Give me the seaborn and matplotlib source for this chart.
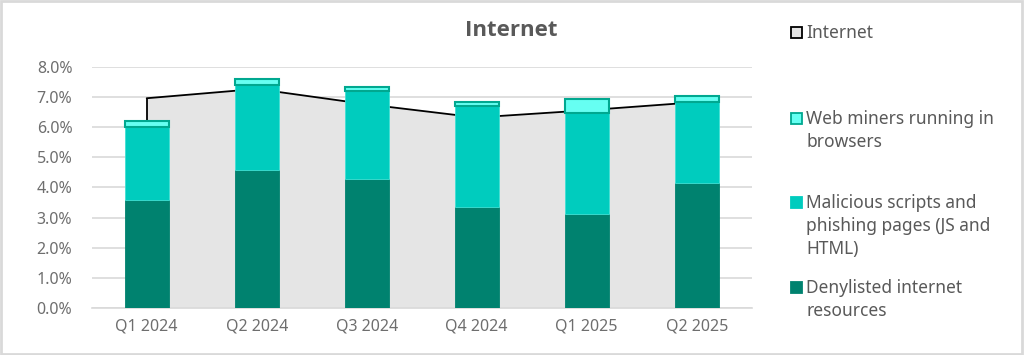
import numpy as np
import pandas as pd
import matplotlib
matplotlib.use("Agg")
import matplotlib.pyplot as plt
from matplotlib.patches import Rectangle
from matplotlib.ticker import FuncFormatter
import seaborn as sns

quarters = ["Q1 2024", "Q2 2024", "Q3 2024", "Q4 2024", "Q1 2025", "Q2 2025"]
denylisted = [3.60, 4.59, 4.29, 3.36, 3.13, 4.16]
malicious = [2.40, 2.81, 2.92, 3.35, 3.34, 2.69]
web_miners = [0.22, 0.22, 0.14, 0.14, 0.46, 0.20]
internet = [6.97, 7.28, 6.77, 6.33, 6.57, 6.84]
yticks = [0, 1, 2, 3, 4, 5, 6, 7, 8]

legend_labels = ["Internet", "Web miners running in\nbrowsers",
                 "Malicious scripts and\nphishing pages (JS and\nHTML)",
                 "Denylisted internet\nresources"]

C_DARK = "#00826F"
C_MED = "#00CCBE"
C_LIGHT = "#66FFF2"
C_EDGE = "#00A890"
C_AREA = "#E5E5E5"
C_GRID = "#D9D9D9"
C_TEXT = "#595959"

sns.set_theme(style="white")
plt.rcParams["font.family"] = ["Noto Sans", "DejaVu Sans"]

df = pd.DataFrame({"quarter": quarters, "denylisted": denylisted,
                   "malicious": malicious, "web": web_miners, "internet": internet})
df["mid_bottom"] = df["denylisted"]
df["top_bottom"] = df["denylisted"] + df["malicious"]

fig = plt.figure(figsize=(10.24, 3.55), dpi=100)
ax = fig.add_axes([91.7 / 1024, 1 - 307.7 / 355, 660 / 1024, 240.4 / 355])

xpos = np.arange(len(quarters))
# area (Internet)
ax.fill_between(xpos, 0, df["internet"], color=C_AREA, zorder=1, linewidth=0)
sns.lineplot(x=xpos, y=df["internet"], color="black", linewidth=1.3, ax=ax, zorder=2)
ax.vlines([xpos[0], xpos[-1]], 0, [internet[0], internet[-1]], color="black",
          linewidth=1.3, zorder=2)

sns.barplot(data=df, x="quarter", y="denylisted", color=C_DARK, width=0.4,
            saturation=1, edgecolor=C_DARK, linewidth=0.6, ax=ax, zorder=3)
sns.barplot(data=df, x="quarter", y="malicious", bottom=df["mid_bottom"], color=C_MED,
            width=0.4, saturation=1, edgecolor="#3FE0D4", linewidth=0.6, ax=ax, zorder=3)
sns.barplot(data=df, x="quarter", y="web", bottom=df["top_bottom"], color=C_LIGHT,
            width=0.4, saturation=1, edgecolor=C_EDGE, linewidth=1.5, ax=ax, zorder=4)

ax.set_xlim(-0.5, 5.5)
ax.set_ylim(0, 8)
ax.set_yticks(yticks)
ax.yaxis.set_major_formatter(FuncFormatter(lambda v, p: f"{v:.1f}%"))
ax.grid(axis="y", color=C_GRID, linewidth=1.2, zorder=0)
ax.set_axisbelow(True)
for s in ["top", "right", "left"]:
    ax.spines[s].set_visible(False)
ax.spines["bottom"].set_color(C_GRID)
ax.spines["bottom"].set_linewidth(1.2)
ax.set_xlabel("")
ax.set_ylabel("")
ax.tick_params(axis="both", length=0, labelsize=11.5, colors="#6E6E6E")
ax.tick_params(axis="y", pad=14)
ax.tick_params(axis="x", pad=8)

fig.text(511 / 1024, 1 - 31 / 355, "Internet", ha="center", va="center",
         fontsize=16, fontweight="bold", color=C_TEXT, family=["Open Sans", "DejaVu Sans"])

# legend
leg_y = [32.3, 118.3, 202.3, 287.3]
faces = [C_AREA, C_LIGHT, C_MED, C_DARK]
edges = ["black", C_EDGE, C_MED, C_DARK]
for lab, yc, fc, ec in zip(legend_labels, leg_y, faces, edges):
    fig.add_artist(Rectangle(((791) / 1024, 1 - (yc + 5.5) / 355), 10.5 / 1024, 10.5 / 355,
                             transform=fig.transFigure, facecolor=fc, edgecolor=ec,
                             linewidth=1.3))
    fig.text(806 / 1024, 1 - (yc - 8.5) / 355, lab, ha="left", va="top",
             fontsize=12.5, color=C_TEXT, linespacing=1.38)

fig.add_artist(Rectangle((0.001, 0.002), 0.997, 0.994, transform=fig.transFigure,
                         facecolor="none", edgecolor="#D9D9D9", linewidth=2))

fig.savefig("out.png", dpi=100, facecolor="white")
